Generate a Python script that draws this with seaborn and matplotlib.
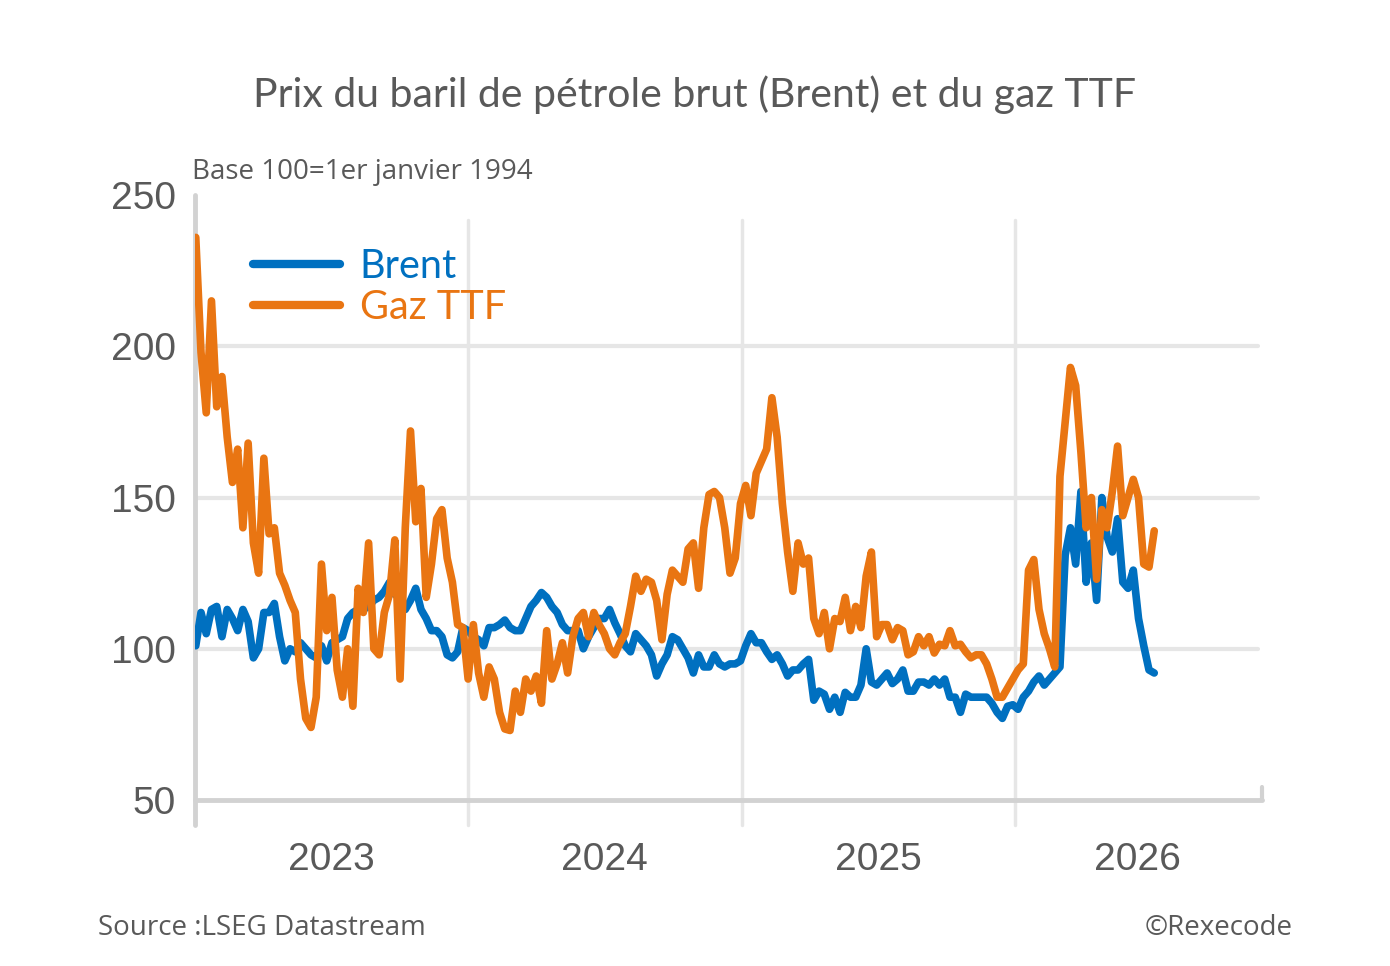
import numpy as np
import pandas as pd
import matplotlib
matplotlib.use("Agg")
import matplotlib.pyplot as plt
import seaborn as sns

# weekly series, base 100 = 1er janvier 1994
start_date = "2023-01-02"

brent = [
    101, 112, 105, 113, 114, 104, 113, 110, 106, 113,
    109, 97, 100, 112, 112, 115, 104, 96, 100, 99,
    102, 100, 98, 97, 101, 96, 102, 103, 104, 110,
    112, 113, 113, 114, 116, 117, 119, 122, 118, 117,
    113, 116, 120, 113, 110, 106, 106, 104, 98, 97,
    99, 107, 106, 104, 103, 101, 107, 107, 108, 109.5,
    107, 106, 106, 110, 114, 116, 118.6, 117, 114, 112,
    108, 106, 106, 106, 100, 104, 107, 110, 110, 113,
    108.6, 105, 101, 99, 105, 103, 101, 98, 91, 95,
    98, 104, 103, 100, 97, 92, 98, 94, 94, 98,
    95, 94, 95, 95, 96, 101, 105, 102, 102, 99,
    96.5, 98, 95, 91, 93, 93, 95, 96.5, 83, 86,
    85, 80, 84, 79, 85.6, 84, 84, 88, 100, 89,
    88, 90, 92, 88.5, 90, 93, 86, 86, 89, 89,
    88, 90, 88, 90, 84, 84, 79, 85, 84, 84,
    84, 84, 82, 79, 77, 81, 81.5, 80, 84, 86,
    89, 91, 88, 90, 92, 94, 131, 140, 128, 152,
    122, 135, 116, 150, 137, 132, 143, 122, 120, 126,
    110, 101, 93, 92,
]

gaz_ttf = [
    236, 198, 178, 215, 180, 190, 170, 155, 166, 140,
    168, 135, 125, 163, 138, 140, 125, 121, 116, 112,
    90, 77, 74, 84, 128, 106, 117, 93, 84, 100,
    81, 120, 112, 135, 100, 98, 112, 118, 136, 90,
    140, 172, 142, 153, 117, 128, 143, 146, 130, 122,
    108, 107, 90, 108, 92, 84, 94, 90, 79, 73.5,
    73, 86, 79, 90, 86, 91, 82, 106, 90, 95,
    102, 92, 104, 110, 112, 104, 112, 108, 105, 100,
    98, 102, 105, 114, 124, 119, 123, 122, 116, 103,
    118, 126, 124, 122, 133, 135, 120, 140, 151, 152,
    150, 140, 125, 130, 148, 154, 144, 158, 162, 166,
    183, 170, 148, 132, 119, 135, 128, 130, 110, 105,
    112, 100, 110, 109, 117, 106, 114, 107, 124, 132,
    104, 108, 108, 103, 107, 106, 98, 99, 104, 101,
    104, 98.6, 101.5, 101, 106, 101, 101.5, 99, 97, 98,
    98, 95, 90, 84, 84, 87, 90, 93, 95, 126,
    129.5, 113, 105, 100, 94, 157, 175, 193, 187, 165,
    140, 150, 123, 146, 140, 152, 167, 144, 150, 156,
    150, 128, 127, 139,
]

year_labels = ["2023", "2024", "2025", "2026"]
label_dates = pd.to_datetime(["2023-07-02", "2024-07-01", "2025-07-02", "2026-06-14"])
year_starts = pd.to_datetime(["2024-01-01", "2025-01-01", "2026-01-01"])
y_ticks = [50, 100, 150, 200, 250]

colors = {"Brent": "#0070C0", "Gaz TTF": "#E97512"}
text_grey = "#595959"
grid_grey = "#E6E6E6"
axis_grey = "#D2D2D2"

dates = pd.date_range(start_date, periods=len(gaz_ttf), freq="7D")
df = pd.DataFrame({"date": dates, "Brent": brent, "Gaz TTF": gaz_ttf})
long_df = df.melt(id_vars="date", var_name="serie", value_name="indice")

sns.set_theme(style="white")
plt.rcParams["font.family"] = ["Liberation Sans", "DejaVu Sans"]

fig = plt.figure(figsize=(13.9, 9.66), dpi=100)
ax = fig.add_axes([0.1403, 0.1718, 0.7676, 0.6263])

sns.lineplot(data=long_df, x="date", y="indice", hue="serie", palette=colors,
             linewidth=5.5, ax=ax, zorder=3)

x0 = pd.Timestamp("2023-01-01")
x1 = pd.Timestamp("2026-11-27")
ax.set_xlim(x0, x1)
ax.set_ylim(50, 250)

for s in ax.spines.values():
    s.set_visible(False)

# grid
for v in y_ticks[1:-1]:
    ax.axhline(v, xmax=0.996, color=grid_grey, lw=3, zorder=0)
for d in year_starts:
    ax.axvline(d, ymin=-0.041, ymax=0.959, color=grid_grey, lw=2.5, zorder=0, clip_on=False)
ax.axvline(x0, ymin=-0.041, ymax=1.0, color=axis_grey, lw=3.5, zorder=1, clip_on=False)
ax.axhline(50, color=axis_grey, lw=3.5, zorder=1, clip_on=False)
ax.axvline(x1, ymin=0, ymax=0.022, color=axis_grey, lw=3, zorder=1, clip_on=False)

ax.set_yticks(y_ticks)
ax.set_xticks(label_dates, year_labels)
ax.tick_params(axis="both", length=0, labelsize=28, labelcolor=text_grey)
ax.tick_params(axis="x", pad=30)
ax.tick_params(axis="y", pad=14)
ax.set_xlabel("")
ax.set_ylabel("")

handles, labels = ax.get_legend_handles_labels()
leg = ax.legend(handles, labels, loc="upper left", bbox_to_anchor=(0.054, 0.912),
                frameon=False, borderpad=0, borderaxespad=0, handlelength=2.2,
                handletextpad=0.5, labelspacing=0.1, labelcolor="linecolor",
                prop={"family": "Lato", "size": 28.5})
for h in leg.get_lines():
    h.set_linewidth(6)

fig.text(0.5, 1 - 95 / 966, "Prix du baril de pétrole brut (Brent) et du gaz TTF",
         ha="center", va="center", fontsize=29.5, family="Lato", color=text_grey)
fig.text(192 / 1390, 1 - 172 / 966, "Base 100=1er janvier 1994",
         ha="left", va="center", fontsize=20, family="Open Sans", color=text_grey)
fig.text(98 / 1390, 1 - 928 / 966, "Source :LSEG Datastream",
         ha="left", va="center", fontsize=20, family="Open Sans", color=text_grey)
fig.text(1293 / 1390, 1 - 928 / 966, "©Rexecode",
         ha="right", va="center", fontsize=20, family="Open Sans", color=text_grey)

fig.savefig("out.png", dpi=100, facecolor="white")
